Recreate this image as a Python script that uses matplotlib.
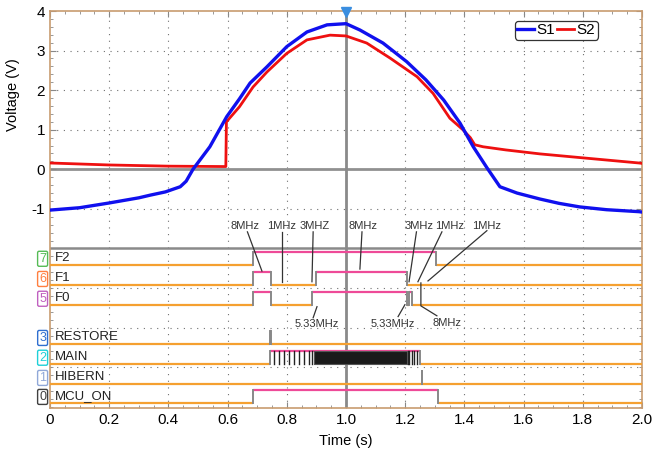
import numpy as np
import matplotlib
matplotlib.use('Agg')
import matplotlib.pyplot as plt
from matplotlib.ticker import MultipleLocator

plt.rcParams['font.family'] = ['Liberation Sans', 'DejaVu Sans']
plt.rcParams['axes.unicode_minus'] = False

# ---------------- analog data ----------------
s1_t = [0.0, 0.05, 0.10, 0.20, 0.30, 0.34, 0.39, 0.44, 0.46, 0.483, 0.54, 0.597, 0.64,
        0.676, 0.733, 0.80, 0.868, 0.936, 1.0, 1.047, 1.125, 1.205, 1.27, 1.33, 1.385,
        1.43, 1.477, 1.52, 1.578, 1.655, 1.72, 1.79, 1.88, 1.99, 2.0]
s1_v = [-1.03, -1.00, -0.97, -0.85, -0.72, -0.65, -0.57, -0.44, -0.30, 0.0, 0.57, 1.33, 1.78,
        2.18, 2.59, 3.10, 3.47, 3.65, 3.68, 3.52, 3.19, 2.72, 2.26, 1.75, 1.17,
        0.57, 0.03, -0.44, -0.60, -0.75, -0.86, -0.95, -1.02, -1.07, -1.08]

s2_t = [0.0, 0.20, 0.40, 0.594, 0.596, 0.64, 0.686, 0.733, 0.80, 0.868, 0.946, 1.0,
        1.07, 1.149, 1.24, 1.294, 1.351, 1.395, 1.42, 1.435, 1.463, 1.54, 1.655, 1.80, 1.99, 2.0]
s2_v = [0.16, 0.11, 0.08, 0.07, 1.20, 1.58, 2.08, 2.46, 2.93, 3.27, 3.39, 3.37,
        3.19, 2.81, 2.34, 1.92, 1.29, 1.00, 0.80, 0.62, 0.57, 0.49, 0.39, 0.29, 0.16, 0.15]

# ---------------- digital data ----------------
channel_names = ['F2', 'F1', 'F0', 'RESTORE', 'MAIN', 'HIBERN', 'MCU_ON']
channel_ids = ['7', '6', '5', '3', '2', '1', '0']
channel_tag_colors = ['#55bb55', '#ff7f3f', '#c060c0', '#2f6fd0', '#1fd0d8', '#90a8d8', '#404040']
channel_low = [-2.41, -2.92, -3.42, -4.41, -4.91, -5.42, -5.90]
channel_edges = [
    [0.686, 1.304],
    [0.686, 0.745, 0.899, 1.205],
    [0.686, 0.745, 0.884, 1.205, 1.212, 1.222],
    [0.742, 0.745],
    [0.743, 1.250],
    [1.256, 1.258],
    [0.686, 1.311],
]
main_pulses = [0.757, 0.774, 0.791, 0.808, 0.824, 0.842, 0.859, 0.876, 0.886,
               1.209, 1.214, 1.222, 1.231, 1.241]
main_burst = [0.893, 1.205]

# annotations: text, text (t, v), pointer path
ann_text = ['8MHz', '1MHz', '3MHZ', '8MHz', '3MHz', '1MHz', '1MHz',
            '5.33MHz', '5.33MHz', '8MHz']
ann_pos = [(0.659, -1.43), (0.784, -1.43), (0.895, -1.43), (1.057, -1.43),
           (1.247, -1.43), (1.351, -1.43), (1.476, -1.43),
           (0.902, -3.92), (1.159, -3.92), (1.341, -3.87)]
ann_path = [
    [(0.667, -1.58), (0.716, -2.57)],
    [(0.784, -1.58), (0.784, -2.84)],
    [(0.889, -1.58), (0.885, -2.84)],
    [(1.054, -1.58), (1.047, -2.52)],
    [(1.238, -1.58), (1.213, -2.84)],
    [(1.324, -1.58), (1.243, -2.84)],
    [(1.476, -1.55), (1.277, -2.82)],
    [(0.889, -3.75), (0.902, -3.47)],
    [(1.176, -3.72), (1.199, -3.42)],
    [(1.307, -3.70), (1.253, -3.45), (1.253, -2.87)],
]

HIGH = 0.33
LOW_COL = '#f5a030'
HIGH_COL = '#ee4a98'
EDGE_COL = '#888888'

fig = plt.figure(figsize=(6.52, 4.54), dpi=100)
ax = fig.add_axes([50/652, 46/454, 592/652, 397/454])
ax.set_xlim(0, 2.0)
ax.set_ylim(-6.03, 4.0)

# grid
for x in np.arange(0.2, 2.0, 0.2):
    ax.axvline(x, color='#707070', lw=0.8, ls=(0, (1, 5)), zorder=0)
for y in [3, 2, 1, -1, -3, -4, -5]:
    ax.axhline(y, color='#707070', lw=0.8, ls=(0, (1, 5)), zorder=0)

# zero line, separator, cursor
ax.axhline(0, color='#909090', lw=2.0, zorder=1)
ax.axhline(-2.0, color='#8a8a8a', lw=1.8, zorder=1)
ax.axvline(1.0, color='#8a8a8a', lw=2.0, zorder=1)

# analog traces
ax.plot(s1_t, s1_v, color='#1010ee', lw=2.4, zorder=4, label='S1')
ax.plot(s2_t, s2_v, color='#ee1010', lw=2.0, zorder=3, label='S2')

# digital traces
for low, edges in zip(channel_low, channel_edges):
    pts = [0.0] + edges + [2.0]
    level = 0
    for i in range(len(pts) - 1):
        y = low + HIGH * level
        ax.plot([pts[i], pts[i + 1]], [y, y], color=HIGH_COL if level else LOW_COL,
                lw=1.6, zorder=3, solid_capstyle='butt')
        level = 1 - level
    for e in edges:
        ax.plot([e, e], [low, low + HIGH], color=EDGE_COL, lw=1.4, zorder=3)

main_low = channel_low[channel_names.index('MAIN')]
for p in main_pulses:
    ax.plot([p, p], [main_low, main_low + HIGH], color='#222222', lw=1.0, zorder=4)
ax.fill_between(main_burst, main_low, main_low + HIGH, color='#1a1a1a',
                edgecolor='#555555', lw=0.8, zorder=4)

# channel names and tags
for name, cid, col, low in zip(channel_names, channel_ids, channel_tag_colors, channel_low):
    ax.text(0.018, low + 0.17, name, fontsize=9.5, color='#222222', va='center', ha='left', zorder=5)
    ax.text(-0.025, low + 0.15, cid, fontsize=9, color=col, va='center', ha='center',
            clip_on=False, zorder=6,
            bbox=dict(boxstyle='round,pad=0.12', fc='white', ec=col, lw=1.0))

# annotations
for txt, pos, path in zip(ann_text, ann_pos, ann_path):
    ax.text(pos[0], pos[1], txt, fontsize=8, color='#333333', ha='center', va='center', zorder=6)
    xs = [p[0] for p in path]
    ys = [p[1] for p in path]
    ax.plot(xs, ys, color='#333333', lw=0.9, zorder=5)

# cursor marker
ax.plot([1.0], [3.97], marker='v', color='#3a8ee0', markersize=7, clip_on=False, zorder=7)

# axes styling
for s in ax.spines.values():
    s.set_color('#c89c70')
    s.set_linewidth(1.2)
ax.set_xticks(np.arange(0, 2.01, 0.2))
ax.set_xticklabels(['0', '0.2', '0.4', '0.6', '0.8', '1.0', '1.2', '1.4', '1.6', '1.8', '2.0'])
ax.set_yticks([4, 3, 2, 1, 0, -1])
ax.xaxis.set_minor_locator(MultipleLocator(0.05))
ax.yaxis.set_minor_locator(MultipleLocator(0.2))
ax.tick_params(which='both', direction='in', top=True, right=True, colors='#888888',
               labelcolor='black', labelsize=11)
ax.tick_params(which='major', length=4)
ax.tick_params(which='minor', length=2)
ax.set_ylabel('Voltage (V)', fontsize=10.5, labelpad=2)
ax.set_xlabel('Time (s)', fontsize=10.5, labelpad=5)
ax.yaxis.set_label_coords(-0.05, 0.79)

leg = ax.legend(loc='upper right', bbox_to_anchor=(0.925, 0.975), ncol=2, fontsize=11,
                handlelength=1.1, handletextpad=0.2, columnspacing=0.1, borderpad=0.15,
                frameon=True, fancybox=True, framealpha=1, borderaxespad=0)
leg.get_frame().set_edgecolor('#333333')
leg.get_frame().set_linewidth(0.9)

fig.savefig('out.png', dpi=100)
